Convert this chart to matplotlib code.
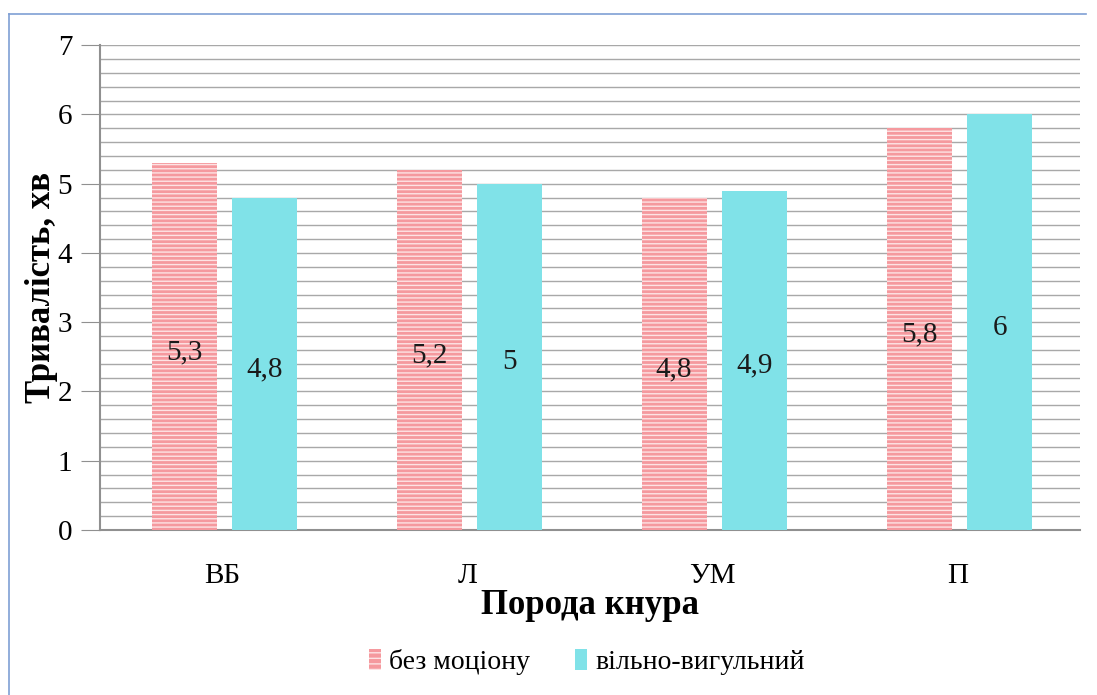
import matplotlib
matplotlib.use("Agg")
import matplotlib.pyplot as plt
import numpy as np
from matplotlib.lines import Line2D

categories = ["ВБ", "Л", "УМ", "П"]
no_exercise = [5.3, 5.2, 4.8, 5.8]
free_walking = [4.8, 5.0, 4.9, 6.0]
series_names = ["без моціону", "вільно-вигульний"]
value_labels_a = ["5,3", "5,2", "4,8", "5,8"]
value_labels_b = ["4,8", "5", "4,9", "6"]

plt.rcParams["font.family"] = ["Liberation Serif", "DejaVu Serif"]
plt.rcParams["hatch.linewidth"] = 1.0

fig = plt.figure(figsize=(10.97, 6.95), dpi=100)
ax = fig.add_axes([0.0912, 0.2374, 0.8933, 0.6976])

x = np.arange(len(categories))
w = 0.265
off = 0.165

pink = "#f5999e"
pink_hatch = "#fde3e4"
cyan = "#80e2e8"

bars_a = ax.bar(x - off + 0.008, no_exercise, w, facecolor=pink, edgecolor=pink_hatch,
                hatch="----", linewidth=0, zorder=3)
bars_b = ax.bar(x + off + 0.008, free_walking, w, facecolor=cyan, linewidth=0, zorder=3)

for b, t in zip(bars_a, value_labels_a):
    ax.text(b.get_x() + b.get_width() / 2, b.get_height() / 2 - 0.08, t,
            ha="center", va="center", fontsize=21, color="#1a1a1a", zorder=5)
for b, t in zip(bars_b, value_labels_b):
    ax.text(b.get_x() + b.get_width() / 2, b.get_height() / 2 - 0.08, t,
            ha="center", va="center", fontsize=21, color="#1a1a1a", zorder=5)

ax.set_ylim(0, 7)
ax.set_xlim(-0.5, 3.5)
ax.set_yticks(range(0, 8))
ax.set_yticks(np.arange(0, 7.01, 0.2), minor=True)
ax.grid(axis="y", which="both", color="#a8a8a8", linewidth=1.0, zorder=1)
ax.set_xticks(x)
ax.set_xticklabels(categories)
ax.tick_params(axis="y", which="major", direction="out", length=14, color="#909090",
               labelsize=21, pad=6)
ax.tick_params(axis="y", which="minor", length=0)
ax.tick_params(axis="x", length=0, labelsize=21, pad=24)

for s in ["top", "right"]:
    ax.spines[s].set_visible(False)
ax.spines["left"].set_color("#909090")
ax.spines["bottom"].set_color("#909090")
ax.spines["left"].set_linewidth(1.5)
ax.spines["bottom"].set_linewidth(1.5)

ax.set_ylabel("Тривалість, хв", fontsize=25, fontweight="bold", labelpad=0)
ax.set_xlabel("Порода кнура", fontsize=25, fontweight="bold", labelpad=0)

handles = [
    plt.Rectangle((0, 0), 1, 1, facecolor=pink, edgecolor=pink_hatch, hatch="---", linewidth=0),
    plt.Rectangle((0, 0), 1, 1, facecolor=cyan, linewidth=0),
]
fig.legend(handles, series_names, loc="center", bbox_to_anchor=(0.535, 0.047),
           ncol=2, frameon=False, fontsize=20, handlelength=0.45, handleheight=0.8,
           handletextpad=0.3, columnspacing=1.6)

# outer chart frame
fig.add_artist(Line2D([0.008, 0.008], [0.0, 0.98], transform=fig.transFigure,
                      color="#7f9fd4", linewidth=1.2))
fig.add_artist(Line2D([0.008, 0.99], [0.98, 0.98], transform=fig.transFigure,
                      color="#7f9fd4", linewidth=1.2))

fig.savefig("out.png", dpi=100)
